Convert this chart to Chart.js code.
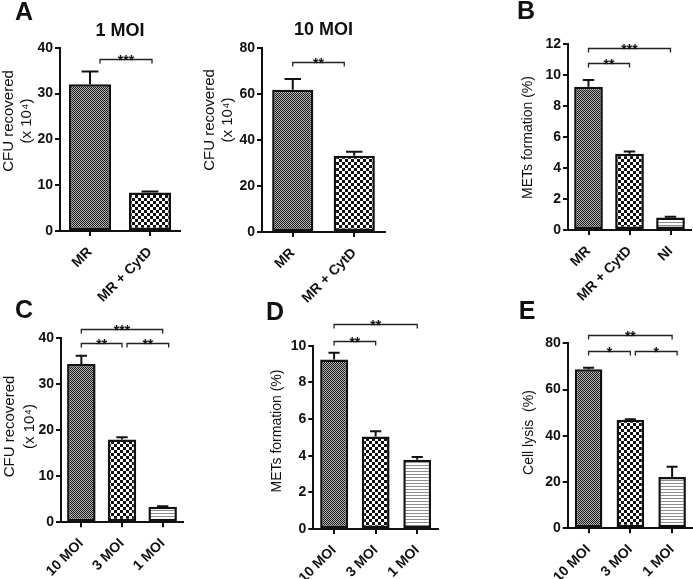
<!DOCTYPE html>
<html>
<head>
<meta charset="utf-8">
<title>CFU / METs / cell lysis</title>
<script src="https://cdn.jsdelivr.net/npm/chart.js@4.4.1/dist/chart.umd.min.js"></script>
<style>
    html, body { margin: 0; padding: 0; background: #fff; }
    #figure { position: relative; width: 693px; height: 579px; overflow: hidden; }
    #figure canvas { position: absolute; left: 0; top: 0; pointer-events: none; }
</style>
</head>
<body>
<div id="figure">
    <canvas id="chartA1" width="693" height="579"></canvas>
    <canvas id="chartA2" width="693" height="579"></canvas>
    <canvas id="chartB" width="693" height="579"></canvas>
    <canvas id="chartC" width="693" height="579"></canvas>
    <canvas id="chartD" width="693" height="579"></canvas>
    <canvas id="chartE" width="693" height="579"></canvas>
</div>
<script>
// ====================================
// FIGURE - CFU / METs / CELL LYSIS
// ====================================

// ---- Categories ----
const groupsCytD = ['MR', 'MR + CytD'];
const groupsNI = ['MR', 'MR + CytD', 'NI'];
const groupsMOI = ['10 MOI', '3 MOI', '1 MOI'];

// ---- Series values (mean, SEM) ----
const cfu1MoiMean = [32.0, 8.4];
const cfu1MoiErr = [2.8, 0.2];
const cfu10MoiMean = [61.8, 33.2];
const cfu10MoiErr = [4.7, 1.7];
const metsCytDMean = [9.25, 4.92, 0.8];
const metsCytDErr = [0.45, 0.15, 0.06];
const cfuMoiMean = [34.4, 18.0, 3.4];
const cfuMoiErr = [1.8, 0.5, 0.1];
const metsMoiMean = [9.25, 5.05, 3.78];
const metsMoiErr = [0.37, 0.28, 0.15];
const lysisMoiMean = [68.8, 46.9, 22.2];
const lysisMoiErr = [0.6, 0.3, 4.4];

// ---- Tick labels ----
const ticksCfu40 = [0, 10, 20, 30, 40];
const ticksCfu80 = [0, 20, 40, 60, 80];
const ticksMets12 = [0, 2, 4, 6, 8, 10, 12];
const ticksMets10 = [0, 2, 4, 6, 8, 10];
const ticksLysis80 = [0, 20, 40, 60, 80];

// ---- Significance brackets (category indices, level in axis units) ----
const sigA1 = [{ from: 0, to: 1, level: 37.6, stars: '***', dx1: 10, dx2: 2 }];
const sigA2 = [{ from: 0, to: 1, level: 73.9, stars: '**', dx1: 0, dx2: -10 }];
const sigB = [
    { from: 0, to: 2, level: 11.78, stars: '***' },
    { from: 0, to: 1, level: 10.81, stars: '**' }
];
const sigC = [
    { from: 0, to: 2, level: 42.0, stars: '***' },
    { from: 0, to: 1, level: 38.9, stars: '**' },
    { from: 1, to: 2, level: 38.9, stars: '**', dx1: 5, dx2: 6 }
];
const sigD = [
    { from: 0, to: 2, level: 11.17, stars: '**' },
    { from: 0, to: 1, level: 10.26, stars: '**' }
];
const sigE = [
    { from: 0, to: 2, level: 83.6, stars: '**' },
    { from: 0, to: 1, level: 76.8, stars: '*' },
    { from: 1, to: 2, level: 76.8, stars: '*', dx1: 5, dx2: 5 }
];

// ---- Axis titles ----
const titleCfu = ['CFU recovered', '(x 10\u2074)'];
const titleMets = ['METs formation (%)'];
const titleLysis = ['Cell lysis  (%)'];

const FONT = "'Liberation Sans', Arial, Helvetica, sans-serif";
const INK = '#111';
const PAGE_W = 693;
const PAGE_H = 579;
const Y_AXIS_W = 30;

// ---- Hatch patterns ----
function makePattern(w, h, paint) {
    const tile = document.createElement('canvas');
    tile.width = w;
    tile.height = h;
    const g = tile.getContext('2d');
    g.fillStyle = '#fff';
    g.fillRect(0, 0, w, h);
    paint(g);
    return g.createPattern(tile, 'repeat');
}

const fineChecker = makePattern(2, 2, g => {
    g.fillStyle = '#b4b4b4';
    g.fillRect(0, 0, 2, 2);
    g.fillStyle = '#1a1a1a';
    g.fillRect(0, 0, 1, 1);
    g.fillRect(1, 1, 1, 1);
});

const coarseChecker = makePattern(6, 6, g => {
    g.fillStyle = '#111';
    g.fillRect(0, 0, 3, 3);
    g.fillRect(3, 3, 3, 3);
});

const stripes = makePattern(1, 3, g => {
    g.fillStyle = '#8c8c8c';
    g.fillRect(0, 0, 1, 1);
});

const barFills = [fineChecker, coarseChecker, stripes];

// ---- Panel layout ----
const panels = [
    {
        id: 'chartA1', labels: groupsCytD, values: cfu1MoiMean, errors: cfu1MoiErr,
        yTicks: ticksCfu40, yTitle: titleCfu, sig: sigA1,
        letter: { text: 'A', x: 24, y: 13 }, heading: { text: '1 MOI', y: 31 },
        area: { left: 60, right: 180, top: 47.7, bottom: 231 },
        titleX: [51, 33], titleY: 121, titleSize: 15, barPct: 0.7
    },
    {
        id: 'chartA2', labels: groupsCytD, values: cfu10MoiMean, errors: cfu10MoiErr,
        yTicks: ticksCfu80, yTitle: titleCfu, sig: sigA2,
        heading: { text: '10 MOI', y: 30 },
        area: { left: 262, right: 385, top: 48, bottom: 232 },
        titleX: [52, 34], titleY: 120, titleSize: 15, barPct: 0.67
    },
    {
        id: 'chartB', labels: groupsNI, values: metsCytDMean, errors: metsCytDErr,
        yTicks: ticksMets12, yTitle: titleMets, sig: sigB,
        letter: { text: 'B', x: 526, y: 12 },
        area: { left: 568, right: 691, top: 44.3, bottom: 230 },
        titleX: [40], titleY: 137.5, titleSize: 14, barPct: 0.7
    },
    {
        id: 'chartC', labels: groupsMOI, values: cfuMoiMean, errors: cfuMoiErr,
        yTicks: ticksCfu40, yTitle: titleCfu, sig: sigC,
        letter: { text: 'C', x: 24, y: 311 },
        area: { left: 61, right: 183, top: 338.3, bottom: 522.3 },
        titleX: [51, 31], titleY: 426.5, titleSize: 15, barPct: 0.7
    },
    {
        id: 'chartD', labels: groupsMOI, values: metsMoiMean, errors: metsMoiErr,
        yTicks: ticksMets10, yTitle: titleMets, sig: sigD,
        letter: { text: 'D', x: 275, y: 313 },
        area: { left: 313.3, right: 438, top: 345.7, bottom: 529 },
        titleX: [36], titleY: 431, titleSize: 14, barPct: 0.67
    },
    {
        id: 'chartE', labels: groupsMOI, values: lysisMoiMean, errors: lysisMoiErr,
        yTicks: ticksLysis80, yTitle: titleLysis, sig: sigE,
        letter: { text: 'E', x: 527, y: 312 },
        area: { left: 567.7, right: 693, top: 343.3, bottom: 528.3 },
        titleX: [39], titleY: 432.5, titleSize: 14, barPct: 0.66
    }
];

const panelById = {};
panels.forEach(p => { panelById[p.id] = p; });

// ---- Error bars, brackets, labels ----
const figureMarks = {
    id: 'figureMarks',
    afterDatasetsDraw(chart) {
        const panel = panelById[chart.canvas.id];
        const ctx = chart.ctx;
        const yScale = chart.scales.y;
        const meta = chart.getDatasetMeta(0);

        ctx.save();
        ctx.strokeStyle = INK;
        ctx.lineWidth = 2;
        meta.data.forEach((bar, i) => {
            const err = panel.errors[i];
            if (!err) return;
            const top = yScale.getPixelForValue(panel.values[i] + err);
            const cap = bar.width * 0.4;
            ctx.beginPath();
            ctx.moveTo(bar.x, bar.y);
            ctx.lineTo(bar.x, top);
            ctx.moveTo(bar.x - cap / 2, top);
            ctx.lineTo(bar.x + cap / 2, top);
            ctx.stroke();
        });
        ctx.restore();
    },
    afterDraw(chart) {
        const panel = panelById[chart.canvas.id];
        const ctx = chart.ctx;
        const xScale = chart.scales.x;
        const yScale = chart.scales.y;
        const area = chart.chartArea;

        ctx.save();
        ctx.fillStyle = INK;

        // panel letter
        if (panel.letter) {
            ctx.font = `bold 25px ${FONT}`;
            ctx.textAlign = 'center';
            ctx.textBaseline = 'middle';
            ctx.fillText(panel.letter.text, panel.letter.x, panel.letter.y);
        }

        // heading over the plot
        if (panel.heading) {
            ctx.font = `bold 18px ${FONT}`;
            ctx.textAlign = 'center';
            ctx.textBaseline = 'middle';
            ctx.fillText(panel.heading.text, (area.left + area.right) / 2, panel.heading.y);
        }

        // y axis title
        ctx.font = `${panel.titleSize}px ${FONT}`;
        ctx.textAlign = 'center';
        ctx.textBaseline = 'middle';
        panel.yTitle.forEach((line, i) => {
            ctx.save();
            ctx.translate(area.left - panel.titleX[i], panel.titleY);
            ctx.rotate(-Math.PI / 2);
            ctx.fillText(line, 0, 0);
            ctx.restore();
        });

        // significance brackets
        ctx.strokeStyle = '#222';
        ctx.lineWidth = 1.3;
        ctx.font = `bold 14px ${FONT}`;
        ctx.textBaseline = 'alphabetic';
        panel.sig.forEach(b => {
            const x1 = xScale.getPixelForValue(b.from) + (b.dx1 || 0);
            const x2 = xScale.getPixelForValue(b.to) + (b.dx2 || 0);
            const y = Math.round(yScale.getPixelForValue(b.level)) + 0.5;
            ctx.beginPath();
            ctx.moveTo(x1, y + 4);
            ctx.lineTo(x1, y);
            ctx.lineTo(x2, y);
            ctx.lineTo(x2, y + 4);
            ctx.stroke();
            ctx.fillText(b.stars, (x1 + x2) / 2, y + 5);
        });

        ctx.restore();
    }
};

// ---- Build one chart ----
function initPanel(panel) {
    const ctx = document.getElementById(panel.id);
    const a = panel.area;
    // the x axis box runs to the page bottom so rotated labels are not clipped
    const xAxisH = PAGE_H - a.bottom;

    return new Chart(ctx, {
        type: 'bar',
        data: {
            labels: panel.labels,
            datasets: [{
                data: panel.values,
                backgroundColor: panel.labels.map((_, i) => barFills[i]),
                borderColor: INK,
                borderWidth: 2.5,
                borderSkipped: false,
                barPercentage: panel.barPct,
                categoryPercentage: 1
            }]
        },
        options: {
            responsive: false,
            animation: false,
            devicePixelRatio: 1,
            events: [],
            layout: {
                padding: {
                    left: a.left - Y_AXIS_W,
                    right: PAGE_W - a.right,
                    top: a.top,
                    bottom: 0
                }
            },
            plugins: {
                legend: { display: false },
                tooltip: { enabled: false }
            },
            scales: {
                x: {
                    grid: {
                        offset: false,
                        drawOnChartArea: false,
                        drawTicks: true,
                        tickLength: 5,
                        color: INK,
                        lineWidth: 2
                    },
                    border: { display: true, color: INK, width: 2 },
                    ticks: {
                        autoSkip: false,
                        minRotation: 45,
                        maxRotation: 45,
                        padding: 8,
                        color: INK,
                        font: { family: FONT, size: 14, weight: 'bold' }
                    },
                    afterFit: scale => { scale.height = xAxisH; }
                },
                y: {
                    min: panel.yTicks[0],
                    max: panel.yTicks[panel.yTicks.length - 1],
                    grid: {
                        drawOnChartArea: false,
                        drawTicks: true,
                        tickLength: 5,
                        color: INK,
                        lineWidth: 2
                    },
                    border: { display: true, color: INK, width: 2 },
                    ticks: {
                        padding: 2,
                        color: INK,
                        font: { family: FONT, size: 14, weight: 'bold' }
                    },
                    afterBuildTicks: scale => {
                        scale.ticks = panel.yTicks.map(v => ({ value: v }));
                    },
                    afterFit: scale => { scale.width = Y_AXIS_W; }
                }
            }
        },
        plugins: [figureMarks]
    });
}

// ---- Initialize ----
panels.forEach(initPanel);
</script>
</body>
</html>
